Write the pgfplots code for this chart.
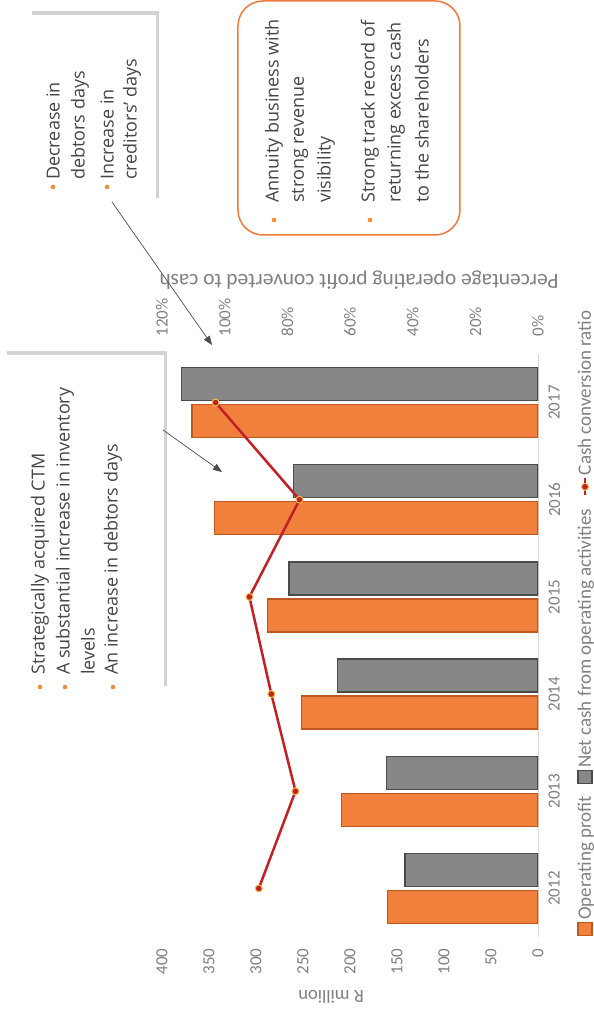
\documentclass[border=0pt]{standalone}
\usepackage{pgfplots}
\pgfplotsset{compat=1.18}
\usepackage{fontspec}
\setmainfont{Carlito}
\newfontfamily\calloutfont{Open Sans}
\usetikzlibrary{shadows,arrows.meta}
\definecolor{opOrange}{RGB}{240,128,60}
\definecolor{opOrangeDark}{RGB}{190,88,30}
\definecolor{netGray}{RGB}{135,135,135}
\definecolor{netGrayDark}{RGB}{75,75,75}
\definecolor{ratioRed}{RGB}{192,32,38}
\definecolor{markEdge}{RGB}{245,190,80}
\definecolor{tickGray}{RGB}{128,128,128}
\definecolor{axisGray}{RGB}{217,217,217}
\definecolor{calloutText}{RGB}{70,70,70}
\definecolor{bulletOrange}{RGB}{240,140,60}
\definecolor{boxOrange}{RGB}{240,120,60}
\newcommand{\tfont}{\fontsize{17}{20}\selectfont}
\newcommand{\lfont}{\fontsize{18.5}{22}\selectfont}
\newcommand{\pfont}{\fontsize{21.5}{25}\selectfont}
\newcommand{\gfont}{\fontsize{19}{22}\selectfont}
\newcommand{\cfont}{\calloutfont\fontsize{18}{22}\selectfont\color{calloutText}}
\begin{document}
\rotatebox{90}{%
\begin{tikzpicture}[x=1pt,y=1pt]
\useasboundingbox (0,0) rectangle (1009,594);
\begin{axis}[
  at={(72pt,56pt)}, anchor=south west,
  width=583pt, height=376pt, scale only axis,
  xmin=-0.5, xmax=5.5, ymin=0, ymax=400,
  xtick={0,1,2,3,4,5}, xticklabels={2012,2013,2014,2015,2016,2017},
  ytick={0,50,...,400},
  axis x line*=bottom, axis y line*=left,
  x axis line style={draw=axisGray, line width=0.8pt, -},
  y axis line style={draw=none},
  major tick length=0pt,
  /pgf/number format/assume math mode=true,
  tick label style={font=\tfont, text=tickGray},
  xticklabel style={yshift=-7pt},
  yticklabel style={xshift=-8pt},
  ylabel={R million},
  ylabel style={font=\lfont, text=tickGray, at={(axis description cs:-0.103,0.55)}, anchor=center},
  legend columns=-1,
  legend style={at={(0.54,-0.125)}, anchor=center, draw=none, fill=none, font=\gfont, text=tickGray,
    /tikz/every even column/.append style={column sep=10pt}},
]
\addplot[ybar, bar width=33pt, bar shift=-18.5pt, fill=opOrange, draw=opOrangeDark, line width=1.2pt,
  legend image code/.code={\draw[fill=opOrange, draw=opOrangeDark, line width=1.2pt] (0pt,-7pt) rectangle (13pt,7pt);}]
  coordinates {(0,160) (1,209) (2,252) (3,288) (4,344) (5,368)};
\addlegendentry{Operating profit}
\addplot[ybar, bar width=33pt, bar shift=18.5pt, fill=netGray, draw=netGrayDark, line width=1.2pt,
  legend image code/.code={\draw[fill=netGray, draw=netGrayDark, line width=1.2pt] (0pt,-7pt) rectangle (13pt,7pt);}]
  coordinates {(0,141.5) (1,161) (2,213) (3,265) (4,260) (5,379)};
\addlegendentry{Net cash from operating activities}
\addlegendimage{line legend, color=ratioRed, line width=2.5pt, mark=*, mark size=3.5pt, mark options={fill=ratioRed, draw=markEdge, line width=1pt}}
\addlegendentry{Cash conversion ratio}
\end{axis}
\begin{axis}[
  at={(72pt,56pt)}, anchor=south west,
  width=583pt, height=376pt, scale only axis,
  xmin=-0.5, xmax=5.5, ymin=0, ymax=120,
  axis x line=none, axis y line*=right,
  y axis line style={draw=none},
  major tick length=0pt,
  ytick={0,20,...,120},
  yticklabel={\pgfmathprintnumber{\tick}\%},
  /pgf/number format/assume math mode=true,
  tick label style={font=\tfont, text=tickGray},
  yticklabel style={xshift=14pt},
  ylabel={Percentage operating profit converted to cash},
  ylabel style={font=\pfont, text=tickGray, at={(axis description cs:1.127,0.476)}, anchor=center, rotate=0},
]
\addplot[color=ratioRed, line width=2.5pt, mark=*, mark size=3.5pt, mark options={fill=ratioRed, draw=markEdge, line width=1pt}]
  coordinates {(0,89.1) (1,77.4) (2,85.1) (3,92.1) (4,76.1) (5,102.9)};
\end{axis}
% callout 1
\draw[draw=white, fill=white, drop shadow={shadow xshift=4pt, shadow yshift=-4pt, opacity=0.35}] (807,439) rectangle (994,566);
\fill[bulletOrange] (822,541) circle (2.3);
\node[anchor=west, inner sep=0] at (829,541) {\cfont Decrease in};
\node[anchor=west, inner sep=0] at (829,514) {\cfont debtors days};
\fill[bulletOrange] (822,487) circle (2.3);
\node[anchor=west, inner sep=0] at (829,487) {\cfont Increase in};
\node[anchor=west, inner sep=0] at (829,462) {\cfont creditors’ days};
\draw[draw=black!70, line width=0.7pt, -{Triangle[length=9pt,width=7pt]}] (807,482) -- (664,382);
% callout 2
\draw[draw=boxOrange, line width=1.5pt, fill=white, rounded corners=25pt] (774,134) rectangle (1008,356);
\fill[bulletOrange] (789,320) circle (2.3);
\node[anchor=west, inner sep=0] at (806,320) {\cfont Annuity business with};
\node[anchor=west, inner sep=0] at (806,294) {\cfont strong revenue};
\node[anchor=west, inner sep=0] at (806,268) {\cfont visibility};
\fill[bulletOrange] (789,224) circle (2.3);
\node[anchor=west, inner sep=0] at (806,224) {\cfont Strong track record of};
\node[anchor=west, inner sep=0] at (806,198) {\cfont returning excess cash};
\node[anchor=west, inner sep=0] at (806,172) {\cfont to the shareholders};
% callout 3
\draw[draw=white, fill=white, drop shadow={shadow xshift=4pt, shadow yshift=-4pt, opacity=0.35}] (319,431) rectangle (654,591);
\fill[bulletOrange] (322,554) circle (2.3);
\node[anchor=west, inner sep=0] at (334,554) {\cfont Strategically acquired CTM};
\fill[bulletOrange] (322,529) circle (2.3);
\node[anchor=west, inner sep=0] at (334,529) {\cfont A substantial increase in inventory};
\node[anchor=west, inner sep=0] at (334,506) {\cfont levels};
\fill[bulletOrange] (322,481) circle (2.3);
\node[anchor=west, inner sep=0] at (334,481) {\cfont An increase in debtors days};
\draw[draw=black!70, line width=0.7pt, -{Triangle[length=9pt,width=7pt]}] (579,431) -- (537,372);
\end{tikzpicture}}
\end{document}
